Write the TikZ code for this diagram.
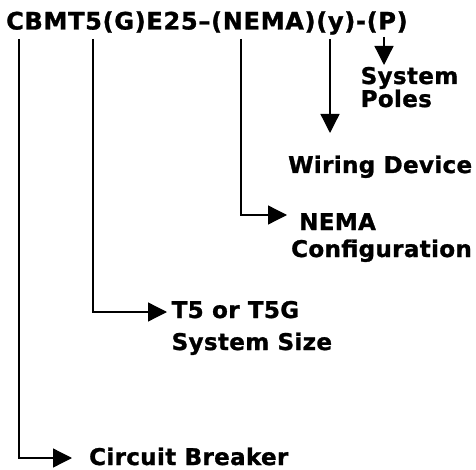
\documentclass[tikz,border=0pt]{standalone}
\usepackage{fontspec}
\setmainfont{DejaVu Sans}
\usepackage{xcolor}
\usetikzlibrary{arrows.meta}
\definecolor{cbink}{HTML}{000000}

\begin{document}
\begin{tikzpicture}[x=1pt,y=-1pt,
    lbl/.style={anchor=base west,inner sep=0pt,align=left,font=\fontsize{23}{23}\selectfont\bfseries\addfontfeatures{LetterSpace=1.5,FakeBold=1.2}},
    lead/.style={draw=cbink,line width=1.3pt,-{Triangle[length=19pt,width=19pt]}}]
  \useasboundingbox (0,0) rectangle (476,470);
  \node[lbl,font=\fontsize{24}{24}\selectfont\bfseries\addfontfeatures{LetterSpace=3,FakeBold=1.2}] (code) at (6,29.5) {CBMT5(G)E25–(NEMA)(y)-(P)};
  % label texts (base = last line)
  \node[lbl] (poles) at (360.5,107) {System\\Poles};
  \node[lbl] (wiring) at (288,173) {Wiring Device};
  \node[lbl] (nema) at (291,257) {\hspace*{8pt}NEMA\\[4pt]Configuration};
  \node[lbl] (size) at (171.5,350) {T5 or T5G\\[9pt]System Size};
  \node[lbl] (breaker) at (89,465) {Circuit Breaker};
  % lead lines
  \coordinate (pTop) at (384,37);   \coordinate (pTip) at (384,65);
  \coordinate (yTop) at (330,39);   \coordinate (yTip) at (330,133);
  \coordinate (nemaTop) at (241,39); \coordinate (nemaTip) at (287,215);
  \coordinate (sizeTop) at (93,39);  \coordinate (sizeTip) at (167,312);
  \coordinate (cbTop) at (19,39);    \coordinate (cbTip) at (72,458);
  \draw[lead] (pTop) -- (pTip);
  \draw[lead] (yTop) -- (yTip);
  \draw[lead] (nemaTop) |- (nemaTip);
  \draw[lead] (sizeTop) |- (sizeTip);
  \draw[lead] (cbTop) |- (cbTip);
\end{tikzpicture}
\end{document}
